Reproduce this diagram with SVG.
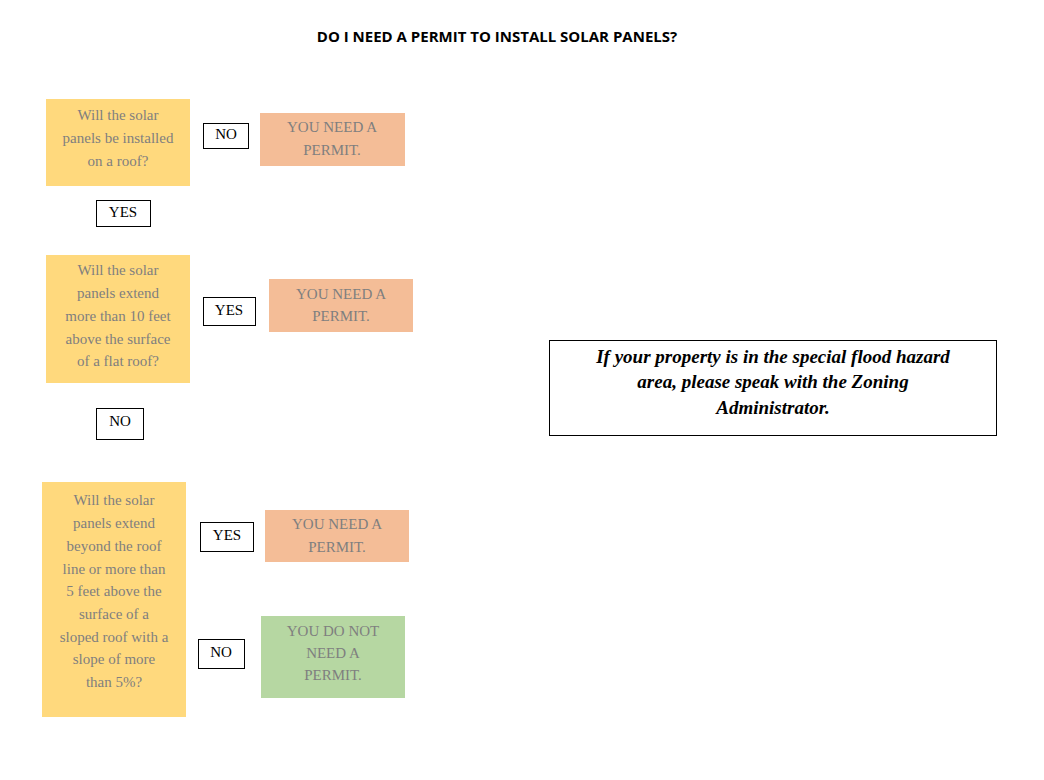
<svg xmlns="http://www.w3.org/2000/svg" width="1044" height="780" viewBox="0 0 1044 780">
<style>
.q{fill:#FFD97D}.r{fill:#F4BD97}.g{fill:#B6D7A2}
.t{font-family:"Liberation Serif",serif;font-size:15px;fill:#7F7F7F;text-anchor:middle;dominant-baseline:middle}
.b{fill:#fff;stroke:#000;stroke-width:1}
.l{font-family:"Liberation Serif",serif;font-size:15px;fill:#000;text-anchor:middle;dominant-baseline:middle}
</style>
<rect width="1044" height="780" fill="#fff"/>
<text x="497" y="38" font-family="Open Sans,Liberation Sans,sans-serif" font-weight="bold" font-size="15" text-anchor="middle" dominant-baseline="middle">DO I NEED A PERMIT TO INSTALL SOLAR PANELS?</text>
<g id="q1"><rect class="q" x="46" y="99" width="144" height="87"/><text class="t"><tspan x="118" y="117">Will the solar</tspan><tspan x="118" y="140">panels be installed</tspan><tspan x="118" y="163">on a roof?</tspan></text></g>
<g id="no1"><rect class="b" x="203.5" y="123.5" width="45" height="25"/><text class="l" x="226" y="136">NO</text></g>
<g id="r1"><rect class="r" x="260" y="113" width="145" height="53"/><text class="t"><tspan x="332" y="129">YOU NEED A</tspan><tspan x="332" y="152">PERMIT.</tspan></text></g>
<g id="yes1"><rect class="b" x="96.5" y="200.5" width="54" height="26"/><text class="l" x="123" y="214">YES</text></g>
<g id="q2"><rect class="q" x="46" y="255" width="144" height="128"/><text class="t"><tspan x="118" y="272">Will the solar</tspan><tspan x="118" y="295">panels extend</tspan><tspan x="118" y="318">more than 10 feet</tspan><tspan x="118" y="341">above the surface</tspan><tspan x="118" y="363">of a flat roof?</tspan></text></g>
<g id="yes2"><rect class="b" x="203.5" y="297.5" width="52" height="28"/><text class="l" x="229" y="312">YES</text></g>
<g id="r2"><rect class="r" x="269" y="279" width="144" height="53"/><text class="t"><tspan x="341" y="296">YOU NEED A</tspan><tspan x="341" y="318">PERMIT.</tspan></text></g>
<g id="no2"><rect class="b" x="96.5" y="408.5" width="47" height="31"/><text class="l" x="120" y="423">NO</text></g>
<g id="q3"><rect class="q" x="42" y="482" width="144" height="235"/><text class="t"><tspan x="114" y="502">Will the solar</tspan><tspan x="114" y="525">panels extend</tspan><tspan x="114" y="548">beyond the roof</tspan><tspan x="114" y="571">line or more than</tspan><tspan x="114" y="593">5 feet above the</tspan><tspan x="114" y="616">surface of a</tspan><tspan x="114" y="639">sloped roof with a</tspan><tspan x="114" y="661">slope of more</tspan><tspan x="114" y="684">than 5%?</tspan></text></g>
<g id="yes3"><rect class="b" x="200.5" y="522.5" width="53" height="29"/><text class="l" x="227" y="537">YES</text></g>
<g id="r3"><rect class="r" x="265" y="510" width="144" height="52"/><text class="t"><tspan x="337" y="526">YOU NEED A</tspan><tspan x="337" y="549">PERMIT.</tspan></text></g>
<g id="no3"><rect class="b" x="198.5" y="639.5" width="46" height="29"/><text class="l" x="221" y="654">NO</text></g>
<g id="r4"><rect class="g" x="261" y="616" width="144" height="82"/><text class="t"><tspan x="333" y="633">YOU DO NOT</tspan><tspan x="333" y="655">NEED A</tspan><tspan x="333" y="677">PERMIT.</tspan></text></g>
<g id="flood"><rect class="b" x="549.5" y="340.5" width="447" height="95"/><text font-family="Liberation Serif,serif" font-style="italic" font-weight="bold" font-size="19" text-anchor="middle" dominant-baseline="middle"><tspan x="773" y="359">If your property is in the special flood hazard</tspan><tspan x="773" y="384">area, please speak with the Zoning</tspan><tspan x="773" y="410">Administrator.</tspan></text></g>
<g id="connectors"/>
</svg>
